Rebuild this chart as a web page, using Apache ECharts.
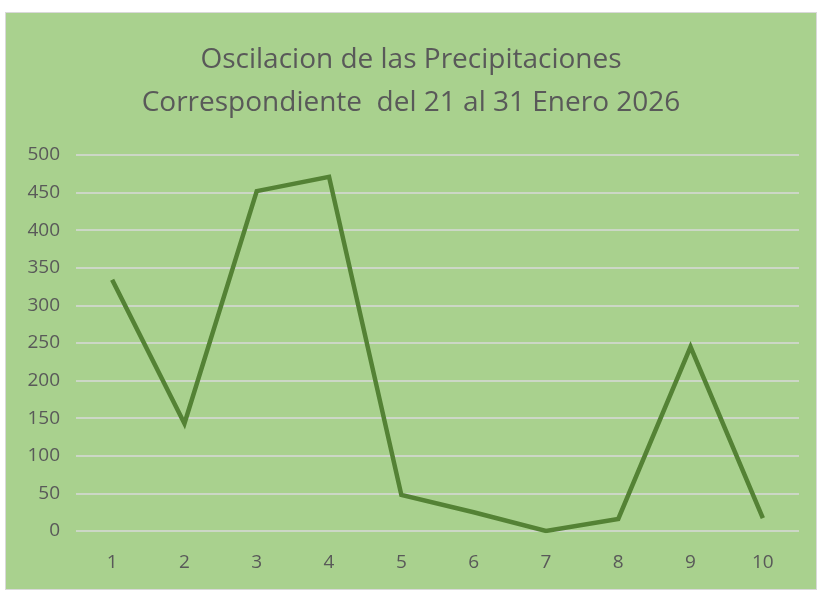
<!DOCTYPE html>
<html lang="es">
  <head>
    <meta charset="utf-8" />
    <title>Oscilacion de las Precipitaciones</title>
    <script type="text/javascript" src="https://cdn.jsdelivr.net/npm/echarts@6/dist/echarts.min.js"></script>
    <style>
      html, body { margin: 0; padding: 0; background: #ffffff; }
      #chart {
        position: absolute; left: 5px; top: 12px;
        width: 810px; height: 576px;
        background: #a9d18e; border: 1px solid #d9d9d9;
      }
    </style>
  </head>
  <body>
    <div id="chart"></div>
    <script>
      // days (1..10) and rainfall
      var dias = ['1', '2', '3', '4', '5', '6', '7', '8', '9', '10']
      var precipitacion = [334, 143, 452, 471, 48, 25, 0, 16, 245, 17]
      var titulo = 'Oscilacion de las Precipitaciones\nCorrespondiente  del 21 al 31 Enero 2026'

      window.onload = function () {
        var chart = echarts.init(document.getElementById('chart'))
        var font = 'Open Sans, Noto Sans, sans-serif'
        chart.setOption({
          animation: false,
          backgroundColor: '#a9d18e',
          title: {
            text: titulo,
            left: 'center',
            top: 21,
            textStyle: {
              fontFamily: font, fontSize: 28, fontWeight: 'normal',
              color: '#595959', lineHeight: 43
            }
          },
          grid: { left: 70, right: 17, top: 142, bottom: 58 },
          xAxis: {
            type: 'category',
            data: dias,
            boundaryGap: true,
            axisLine: { show: false },
            axisTick: { show: false },
            axisLabel: { color: '#595959', fontFamily: font, fontSize: 19, margin: 22 }
          },
          yAxis: {
            type: 'value',
            min: 0, max: 500, interval: 50,
            axisLine: { show: false },
            axisTick: { show: false },
            axisLabel: { color: '#595959', fontFamily: font, fontSize: 19, margin: 16 },
            splitLine: { lineStyle: { color: '#d9d9d9', width: 1.5 } }
          },
          series: [{
            type: 'line',
            data: precipitacion,
            symbol: 'none',
            lineStyle: { color: '#548235', width: 4.5, join: 'miter' }
          }]
        })
      }
    </script>
  </body>
</html>
